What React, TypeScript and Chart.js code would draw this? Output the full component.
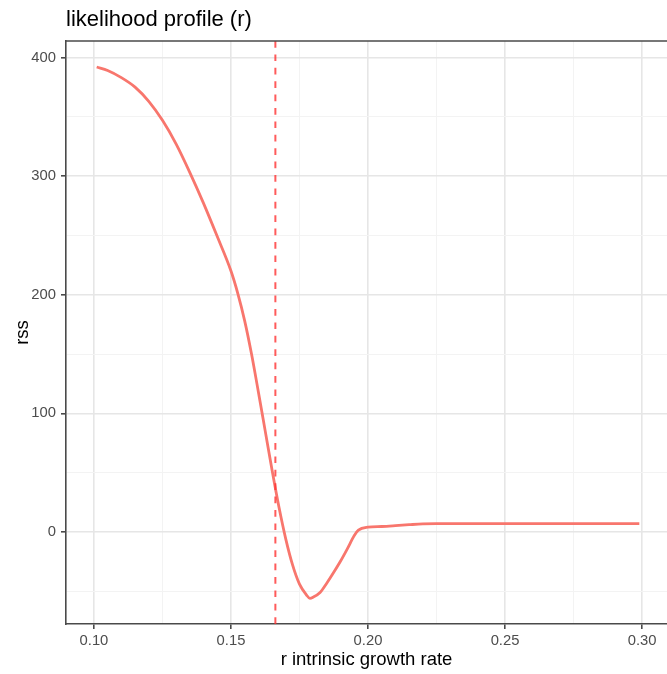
import React, { useEffect, useRef } from "react";
import { Chart, registerables } from "chart.js";

Chart.register(...registerables);

// ---- data ----
const rValues = [0.101, 0.105, 0.11, 0.115, 0.12, 0.125, 0.13, 0.135, 0.14, 0.145, 0.15, 0.1525, 0.155, 0.1575, 0.16, 0.1625, 0.165, 0.1675, 0.17, 0.1725, 0.175, 0.1775, 0.1788, 0.18, 0.1825, 0.185, 0.1875, 0.19, 0.1925, 0.195, 0.1965, 0.2, 0.205, 0.21, 0.215, 0.22, 0.225, 0.25, 0.275, 0.299];
const rssValues = [392, 389, 383, 375, 363, 347, 327, 303, 277, 249, 220, 201, 178, 150, 118, 85, 52, 21, -6, -28, -44, -53, -56, -55, -51, -43, -34, -24.5, -14, -3, 1.5, 4, 4.6, 5.3, 6.1, 6.8, 7, 7, 7, 7];
const vlineR = 0.1662;

const xMajorTicks = [0.1, 0.15, 0.2, 0.25, 0.3];
const xTickLabels = ["0.10", "0.15", "0.20", "0.25", "0.30"];
const xMinorTicks = [0.125, 0.175, 0.225, 0.275];
const yMajorTicks = [0, 100, 200, 300, 400];
const yTickLabels = ["0", "100", "200", "300", "400"];
const yMinorTicks = [-50, 50, 150, 250, 350];

const titleText = "likelihood profile (r)";
const xTitle = "r intrinsic growth rate";
const yTitle = "rss";

const X_MIN = 0.0898;
const X_MAX = 0.3091;
const Y_MIN = -77.6;
const Y_MAX = 413.9;

const FONT = "'Liberation Sans', Arial, sans-serif";
const MAJOR_GRID = "#E6E6E6";
const MINOR_GRID = "#F3F3F3";
const BORDER = "#4a4a4a";

const isMajor = (v: number, arr: number[]) => arr.some((a) => Math.abs(a - v) < 1e-9);

const decorPlugin = {
  id: "decor",
  afterDraw(chart: any) {
    const { ctx, chartArea } = chart;
    ctx.save();
    // top border
    ctx.strokeStyle = BORDER;
    ctx.lineWidth = 1.6;
    ctx.beginPath();
    ctx.moveTo(chartArea.left - 0.8, chartArea.top);
    ctx.lineTo(chartArea.right, chartArea.top);
    ctx.stroke();
    // title
    ctx.fillStyle = "#000";
    ctx.font = `22px ${FONT}`;
    ctx.textAlign = "left";
    ctx.textBaseline = "alphabetic";
    ctx.fillText(titleText, 66, 26);
    // x title
    ctx.font = `18.5px ${FONT}`;
    ctx.textAlign = "center";
    ctx.fillText(xTitle, (chartArea.left + chartArea.right) / 2, 665);
    // y title
    ctx.translate(28, (chartArea.top + chartArea.bottom) / 2);
    ctx.rotate(-Math.PI / 2);
    ctx.fillText(yTitle, 0, 0);
    ctx.restore();
  },
};

export default function App() {
  const ref = useRef<HTMLCanvasElement | null>(null);

  useEffect(() => {
    document.body.style.margin = "0";
    const canvas = ref.current;
    if (!canvas) return;
    const curve = rValues.map((r, i) => ({ x: r, y: rssValues[i] }));
    const vline = [
      { x: vlineR, y: Y_MAX },
      { x: vlineR, y: Y_MIN },
    ];
    const chart = new Chart(canvas, {
      type: "scatter",
      data: {
        datasets: [
          {
            data: vline,
            showLine: true,
            borderColor: "rgba(255,50,50,0.8)",
            borderWidth: 2,
            borderDash: [6.7, 6.7],
            pointRadius: 0,
            order: 0,
          },
          {
            data: curve,
            showLine: true,
            borderColor: "#F8766D",
            borderWidth: 2.8,
            borderJoinStyle: "round",
            pointRadius: 0,
            cubicInterpolationMode: "monotone",
            order: 1,
          },
        ],
      },
      options: {
        animation: false,
        responsive: false,
        maintainAspectRatio: false,
        layout: { padding: { top: 41, left: 0, right: 0, bottom: 0 } },
        plugins: {
          legend: { display: false },
          tooltip: { enabled: false },
          title: { display: false },
        },
        scales: {
          x: {
            type: "linear",
            min: X_MIN,
            max: X_MAX,
            afterBuildTicks: (scale: any) => {
              scale.ticks = [...xMajorTicks, ...xMinorTicks]
                .sort((a, b) => a - b)
                .map((v) => ({ value: v }));
            },
            afterFit: (scale: any) => {
              scale.height = 50;
            },
            ticks: {
              autoSkip: false,
              maxRotation: 0,
              padding: 3,
              color: "#4D4D4D",
              font: { family: FONT, size: 14.8 },
              callback: (v: any) => {
                const i = xMajorTicks.findIndex((a) => Math.abs(a - v) < 1e-9);
                return i >= 0 ? xTickLabels[i] : "";
              },
            },
            grid: {
              color: (c: any) => (isMajor(c.tick?.value, xMajorTicks) ? MAJOR_GRID : MINOR_GRID),
              lineWidth: (c: any) => (isMajor(c.tick?.value, xMajorTicks) ? 1.6 : 1),
              tickColor: (c: any) => (isMajor(c.tick?.value, xMajorTicks) ? BORDER : "rgba(0,0,0,0)"),
              tickWidth: 1.6,
              tickLength: 5,
              drawTicks: true,
            },
            border: { display: true, color: BORDER, width: 1.6 },
          },
          y: {
            type: "linear",
            min: Y_MIN,
            max: Y_MAX,
            afterBuildTicks: (scale: any) => {
              scale.ticks = [...yMajorTicks, ...yMinorTicks]
                .sort((a, b) => a - b)
                .map((v) => ({ value: v }));
            },
            afterFit: (scale: any) => {
              scale.width = 66;
            },
            ticks: {
              autoSkip: false,
              padding: 5,
              color: "#4D4D4D",
              font: { family: FONT, size: 14.8 },
              callback: (v: any) => {
                const i = yMajorTicks.findIndex((a) => Math.abs(a - v) < 1e-9);
                return i >= 0 ? yTickLabels[i] : "";
              },
            },
            grid: {
              color: (c: any) => (isMajor(c.tick?.value, yMajorTicks) ? MAJOR_GRID : MINOR_GRID),
              lineWidth: (c: any) => (isMajor(c.tick?.value, yMajorTicks) ? 1.6 : 1),
              tickColor: (c: any) => (isMajor(c.tick?.value, yMajorTicks) ? BORDER : "rgba(0,0,0,0)"),
              tickWidth: 1.6,
              tickLength: 5,
              drawTicks: true,
            },
            border: { display: true, color: BORDER, width: 1.6 },
          },
        },
      },
      plugins: [decorPlugin],
    } as any);
    return () => chart.destroy();
  }, []);

  return (
    <div style={{ width: 667, height: 674, background: "#fff" }}>
      <canvas ref={ref} width={667} height={674} style={{ display: "block" }} />
    </div>
  );
}
